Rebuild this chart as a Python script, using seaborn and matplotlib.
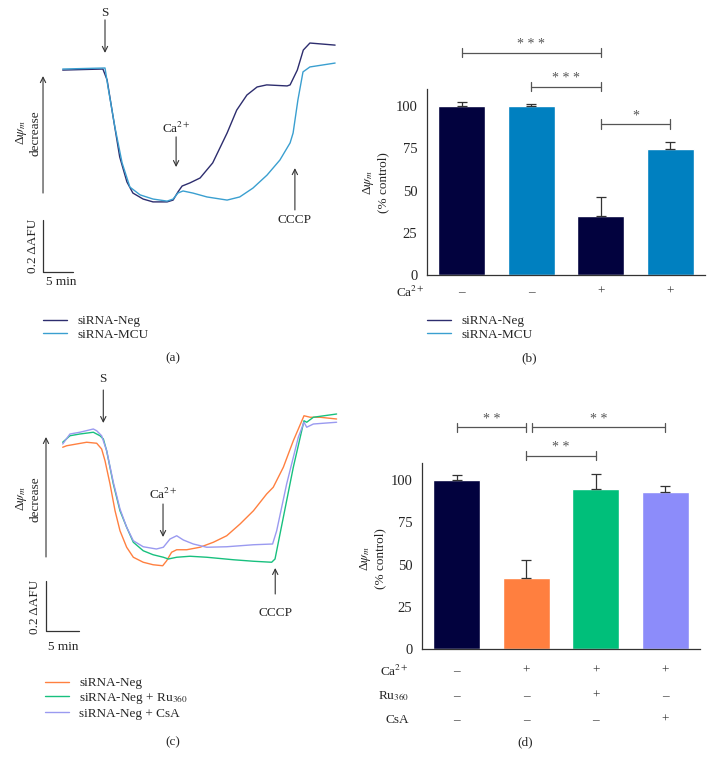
import numpy as np
import pandas as pd
import seaborn as sns
import matplotlib.pyplot as plt
from matplotlib.transforms import blended_transform_factory

# ---------------- data ----------------
# (a) traces: time (min), signal (ΔAFU)
a_neg_t = [0, 6.7, 7.4, 8.4, 9.5, 10.7, 11.7, 13.4, 15.05, 17.4, 18.4, 19.2, 19.9, 21.2,
           22.9, 25.0, 27.4, 29.0, 30.7, 32.4, 34.0, 37.4, 37.9, 39.1, 40.1, 41.2, 45.4]
a_neg_s = [0.692, 0.696, 0.654, 0.512, 0.358, 0.262, 0.219, 0.196, 0.185, 0.185, 0.192, 0.223,
           0.246, 0.258, 0.277, 0.335, 0.450, 0.538, 0.596, 0.627, 0.635, 0.631, 0.635, 0.692,
           0.769, 0.796, 0.788]
a_mcu_t = [0, 7.05, 7.55, 8.7, 9.9, 11.2, 12.9, 15.05, 17.4, 18.4, 19.2, 20.05, 21.7, 24.05,
           27.4, 29.5, 31.7, 34.05, 36.2, 37.9, 38.4, 39.2, 40.05, 41.2, 45.4]
a_mcu_s = [0.696, 0.700, 0.627, 0.473, 0.335, 0.242, 0.212, 0.196, 0.188, 0.196, 0.219, 0.227,
           0.219, 0.204, 0.192, 0.204, 0.238, 0.288, 0.346, 0.412, 0.450, 0.577, 0.685, 0.704,
           0.719]

# (b) bars
b_groups = ["Neg", "MCU", "Neg + Ca", "MCU + Ca"]
b_means = [100, 100, 34.8, 74.7]
b_sem = [2.8, 1.4, 11.2, 4.2]
b_ca = ["–", "–", "+", "+"]

# (c) traces
c_neg_t = [0, 0.6, 2.1, 3.63, 5.15, 5.9, 6.41, 7.17, 7.93, 8.68, 9.69, 10.7, 12.2, 13.7, 15.15,
           15.75, 16.5, 17.27, 18.78, 20.8, 22.83, 24.85, 26.87, 28.9, 30.9, 31.9, 33.43, 34.94,
           36.56, 37.5, 38.99, 41.5]
c_neg_s = [0.611, 0.617, 0.624, 0.631, 0.627, 0.604, 0.557, 0.464, 0.357, 0.277, 0.211, 0.171,
           0.151, 0.141, 0.137, 0.157, 0.191, 0.201, 0.201, 0.211, 0.231, 0.257, 0.304, 0.357,
           0.424, 0.451, 0.531, 0.637, 0.737, 0.731, 0.731, 0.724]
c_ru_t = [0, 1.1, 2.6, 4.64, 5.65, 6.16, 6.66, 7.67, 8.68, 9.69, 10.7, 12.2, 13.7, 15.25, 16.0,
          17.27, 19.29, 21.82, 25.86, 28.9, 31.66, 32.17, 33.43, 34.94, 36.56, 36.97, 37.98, 41.5]
c_ru_s = [0.631, 0.657, 0.664, 0.671, 0.657, 0.644, 0.597, 0.464, 0.357, 0.291, 0.231, 0.197,
          0.181, 0.171, 0.164, 0.171, 0.175, 0.171, 0.161, 0.155, 0.151, 0.164, 0.331, 0.531,
          0.717, 0.711, 0.731, 0.744]
c_csa_t = [0, 1.1, 2.6, 4.64, 5.15, 5.9, 6.66, 7.67, 8.68, 9.69, 10.7, 12.2, 14.2, 15.25, 16.26,
           17.27, 18.28, 19.79, 21.82, 24.85, 28.9, 31.8, 32.42, 33.93, 35.7, 36.56, 36.97,
           37.98, 41.5]
c_csa_s = [0.624, 0.664, 0.671, 0.684, 0.677, 0.657, 0.597, 0.471, 0.364, 0.291, 0.237, 0.213,
           0.204, 0.211, 0.244, 0.257, 0.240, 0.224, 0.211, 0.213, 0.221, 0.224, 0.277, 0.464,
           0.651, 0.711, 0.691, 0.704, 0.711]

# (d) bars
d_groups = ["Neg", "Neg + Ca", "Ru360 + Ca", "CsA + Ca"]
d_means = [100, 41.9, 94.9, 93.1]
d_sem = [3.0, 10.9, 8.7, 3.5]
d_ca = ["–", "+", "+", "+"]
d_ru = ["–", "–", "+", "–"]
d_csa = ["–", "–", "–", "+"]

# ---------------- style ----------------
sns.set_style("white")
plt.rcParams["font.family"] = ["Liberation Serif", "DejaVu Serif"]
plt.rcParams["mathtext.fontset"] = "stix"
plt.rcParams["font.size"] = 9.5
FS = 9.5
INK = "#333333"
GREY = "#555555"

W, H = 714, 768
fig = plt.figure(figsize=(W / 100, H / 100), dpi=100)


def px_axes(l, t, r, b):
    return fig.add_axes([l / W, 1 - b / H, (r - l) / W, (b - t) / H])


def ftext(x, y, s, **kw):
    kw.setdefault("fontsize", FS)
    fig.text(x / W, 1 - y / H, s, **kw)


def arrow(ax, x, y0, y1):
    ax.annotate("", xy=(x, y1), xytext=(x, y0),
                arrowprops=dict(arrowstyle="->", color=INK, lw=0.8,
                                shrinkA=0, shrinkB=0))


def trace_panel(ax, traces, colors, xlim, ylim):
    for (name, t, s), c in zip(traces, colors):
        sns.lineplot(x=t, y=s, color=c, lw=1.0, label=name, sort=False,
                     estimator=None, ax=ax)
    ax.set_xlim(*xlim)
    ax.set_ylim(*ylim)
    ax.set_axis_off()


def put_legend(ax, x, y):
    h, l = ax.get_legend_handles_labels()
    ax.legend(h, l, loc="upper left", bbox_to_anchor=(x / W, 1 - y / H),
              bbox_transform=fig.transFigure, frameon=False, borderpad=0,
              borderaxespad=0, handlelength=1.8, handletextpad=0.8,
              labelspacing=0.12, fontsize=FS)


def bar_panel(ax, groups, means, sem, colors):
    df = pd.DataFrame({"group": groups, "value": means})
    sns.barplot(data=df, x="group", y="value", hue="group", palette=colors,
                legend=False, width=0.67, saturation=1, errorbar=None, ax=ax)
    n = len(means)
    ax.errorbar(np.arange(n), means, yerr=[np.zeros(n), sem], fmt="none",
                ecolor=INK, elinewidth=0.9, capsize=3.6, capthick=0.9, zorder=3)
    ax.set_xlim(-0.5, 3.5)
    ax.set_ylim(0, 110)
    ax.set_yticks([0, 25, 50, 75, 100])
    ax.set_xticks(range(n))
    ax.set_xticklabels([""] * n)
    ax.set_xlabel("")
    ax.set_ylabel("")
    sns.despine(ax=ax)
    for sp in ("left", "bottom"):
        ax.spines[sp].set_color(INK)
        ax.spines[sp].set_linewidth(0.9)
    ax.tick_params(axis="both", direction="out", length=4, width=0.9,
                   color=INK, labelsize=10.5, pad=3)


def bracket(ax, x1, x2, y, label, ty):
    kw = dict(color=GREY, lw=0.9, clip_on=False)
    ax.plot([x1, x2], [y, y], **kw)
    for x in (x1, x2):
        ax.plot([x, x], [y - 2.7, y + 2.7], **kw)
    ax.text((x1 + x2) / 2, ty, label, ha="center", va="center", color=GREY,
            fontsize=10, clip_on=False)


def sign_row(ax, signs, y):
    tr = blended_transform_factory(ax.transData, fig.transFigure)
    for i, s in enumerate(signs):
        ax.text(i, 1 - y / H, s, transform=tr, ha="center", va="center",
                fontsize=FS, color=INK)


# ---------------- (a) ----------------
axa = px_axes(0, 0, 357, 300)
trace_panel(axa, [("siRNA-Neg", a_neg_t, a_neg_s), ("siRNA-MCU", a_mcu_t, a_mcu_s)],
            ["#2d2d6e", "#3a9fd0"], (-10.45, 49.05), (-0.1923, 0.9615))
axa.text(7.05, 0.912, "S", ha="center", va="center", fontsize=FS)
arrow(axa, 7.05, 0.885, 0.758)
axa.text(18.9, 0.469, "Ca$^{2+}$", ha="center", va="center", fontsize=FS)
arrow(axa, 18.9, 0.435, 0.319)
arrow(axa, 38.7, 0.154, 0.315)
axa.text(38.7, 0.115, "CCCP", ha="center", va="center", fontsize=FS)
arrow(axa, -3.28, 0.219, 0.669)
axa.plot([-3.28, -3.28, 1.72], [0.115, -0.085, -0.085], color=INK, lw=0.9)
axa.text(-0.28, -0.123, "5 min", ha="center", va="center", fontsize=FS)
axa.text(-4.95, 0.015, "0.2 ΔAFU", ha="center", va="center", rotation=90, fontsize=FS)
axa.text(-5.8, 0.45, "Δ$\\psi_m$\ndecrease", ha="center", va="center", rotation=90,
         fontsize=FS, linespacing=1.1)
put_legend(axa, 43, 315)
ftext(173, 358, "(a)", ha="center", va="center")

# ---------------- (b) ----------------
axb = px_axes(427, 89.4, 705, 275)
bar_panel(axb, b_groups, b_means, b_sem, ["#02023e", "#0080c0", "#02023e", "#0080c0"])
bracket(axb, 0, 2, 131.8, "* * *", 136.5)
bracket(axb, 1, 2, 111.6, "* * *", 116.2)
bracket(axb, 2, 3, 89.5, "*", 94.2)
sign_row(axb, b_ca, 292)
ftext(425, 292, "Ca$^{2+}$", ha="right", va="center")
ftext(375, 183, "Δ$\\psi_m$\n(% control)", ha="center", va="center", rotation=90,
      linespacing=1.1)
axb.plot([], [], color="#2d2d6e", lw=1.0, label="siRNA-Neg")
axb.plot([], [], color="#3a9fd0", lw=1.0, label="siRNA-MCU")
put_legend(axb, 427, 315)
ftext(529, 358, "(b)", ha="center", va="center")

# ---------------- (c) ----------------
axc = px_axes(0, 384, 357, 684)
trace_panel(axc, [("siRNA-Neg", c_neg_t, c_neg_s),
                  ("siRNA-Neg + Ru$_{360}$", c_ru_t, c_ru_s),
                  ("siRNA-Neg + CsA", c_csa_t, c_csa_s)],
            ["#ff8040", "#18c07e", "#9a9af0"], (-9.5, 44.59), (-0.336, 0.864))
axc.text(6.15, 0.884, "S", ha="center", va="center", fontsize=FS)
arrow(axc, 6.15, 0.84, 0.708)
axc.text(15.2, 0.424, "Ca$^{2+}$", ha="center", va="center", fontsize=FS)
arrow(axc, 15.2, 0.384, 0.252)
arrow(axc, 32.2, 0.024, 0.128)
axc.text(32.2, -0.052, "CCCP", ha="center", va="center", fontsize=FS)
arrow(axc, -2.53, 0.172, 0.652)
axc.plot([-2.53, -2.53, 2.47], [0.076, -0.124, -0.124], color=INK, lw=0.9)
axc.text(0.05, -0.188, "5 min", ha="center", va="center", fontsize=FS)
axc.text(-4.2, -0.028, "0.2 ΔAFU", ha="center", va="center", rotation=90, fontsize=FS)
axc.text(-5.3, 0.404, "Δ$\\psi_m$\ndecrease", ha="center", va="center", rotation=90,
         fontsize=FS, linespacing=1.1)
put_legend(axc, 45, 677)
ftext(173, 742, "(c)", ha="center", va="center")

# ---------------- (d) ----------------
axd = px_axes(422, 463.3, 700, 649)
bar_panel(axd, d_groups, d_means, d_sem, ["#02023e", "#ff7f3f", "#00bf7a", "#8c8cfa"])
bracket(axd, 0, 1, 131.4, "* *", 136.0)
bracket(axd, 1.08, 3, 131.4, "* *", 136.0)
bracket(axd, 1, 2, 114.6, "* *", 119.3)
sign_row(axd, d_ca, 671)
sign_row(axd, d_ru, 696)
sign_row(axd, d_csa, 720)
ftext(409, 671, "Ca$^{2+}$", ha="right", va="center")
ftext(409, 696, "Ru$_{360}$", ha="right", va="center")
ftext(409, 720, "CsA", ha="right", va="center")
ftext(372, 559, "Δ$\\psi_m$\n(% control)", ha="center", va="center", rotation=90,
      linespacing=1.1)
ftext(525, 742, "(d)", ha="center", va="center")

fig.savefig("out.png", dpi=100, facecolor="white")
